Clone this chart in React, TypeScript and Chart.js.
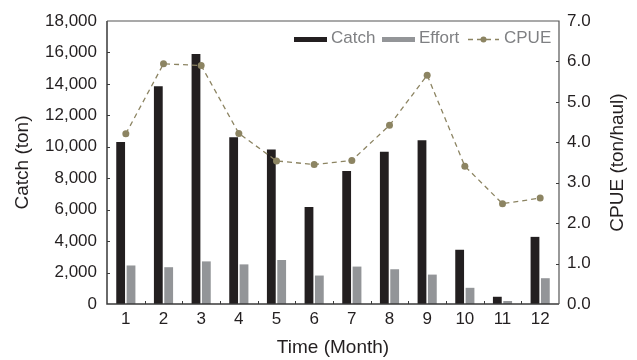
import React, { useEffect, useRef } from "react";
import { Chart, registerables } from "chart.js";
Chart.register(...registerables);

const months = ["1", "2", "3", "4", "5", "6", "7", "8", "9", "10", "11", "12"];
const catchTon = [10300, 13850, 15900, 10600, 9830, 6170, 8460, 9680, 10420, 3450, 460, 4270];
const effortHauls = [2450, 2340, 2710, 2520, 2800, 1810, 2380, 2210, 1870, 1030, 190, 1640];
const cpue = [4.21, 5.94, 5.9, 4.22, 3.54, 3.45, 3.55, 4.42, 5.66, 3.41, 2.48, 2.62];
const leftMax = 18000;
const leftStep = 2000;
const rightMax = 7;
const rightStep = 1;
const xTitle = "Time (Month)";
const leftTitle = "Catch (ton)";
const rightTitle = "CPUE (ton/haul)";
const legendLabels = ["Catch", "Effort", "CPUE"];

const CATCH_COLOR = "#231f20";
const EFFORT_COLOR = "#939598";
const CPUE_COLOR = "#8c8462";
const AXIS_COLOR = "#3a3a3a";
const FONT = "'Liberation Sans', Arial, sans-serif";

const decorPlugin = {
  id: "decor",
  afterDraw(chart: any) {
    const ctx = chart.ctx as CanvasRenderingContext2D;
    const a = chart.chartArea;
    const y = chart.scales.y;
    const y1 = chart.scales.y1;
    ctx.save();
    // frame
    ctx.strokeStyle = AXIS_COLOR;
    ctx.lineWidth = 1.5;
    ctx.beginPath();
    ctx.moveTo(a.left, a.top);
    ctx.lineTo(a.left, a.bottom);
    ctx.lineTo(a.right, a.bottom);
    ctx.stroke();
    ctx.strokeStyle = "#555";
    ctx.lineWidth = 1.2;
    ctx.beginPath();
    ctx.moveTo(a.left, a.top);
    ctx.lineTo(a.right, a.top);
    ctx.lineTo(a.right, a.bottom);
    ctx.stroke();
    // tick marks
    ctx.strokeStyle = AXIS_COLOR;
    ctx.lineWidth = 1;
    ctx.beginPath();
    for (let v = leftStep; v < leftMax; v += leftStep) {
      const py = Math.round(y.getPixelForValue(v)) + 0.5;
      ctx.moveTo(a.left, py);
      ctx.lineTo(a.left + 3, py);
    }
    for (let v = rightStep; v < rightMax; v += rightStep) {
      const py = Math.round(y1.getPixelForValue(v)) + 0.5;
      ctx.moveTo(a.right, py);
      ctx.lineTo(a.right - 3, py);
    }
    const n = months.length;
    const w = (a.right - a.left) / n;
    for (let i = 1; i < n; i++) {
      const px = Math.round(a.left + w * i) + 0.5;
      ctx.moveTo(px, a.bottom);
      ctx.lineTo(px, a.bottom - 3);
    }
    ctx.stroke();

    // titles
    ctx.fillStyle = "#231f20";
    ctx.font = `19px ${FONT}`;
    ctx.textAlign = "center";
    ctx.textBaseline = "middle";
    ctx.fillText(xTitle, (a.left + a.right) / 2, 348);
    ctx.save();
    ctx.translate(23, (a.top + a.bottom) / 2);
    ctx.rotate(-Math.PI / 2);
    ctx.fillText(leftTitle, 0, 0);
    ctx.restore();
    ctx.save();
    ctx.translate(618, (a.top + a.bottom) / 2);
    ctx.rotate(-Math.PI / 2);
    ctx.fillText(rightTitle, 0, 0);
    ctx.restore();

    // legend
    ctx.font = `17px ${FONT}`;
    ctx.textAlign = "left";
    ctx.textBaseline = "alphabetic";
    const base = 43;
    ctx.fillStyle = CATCH_COLOR;
    ctx.fillRect(294, 37, 33, 5);
    ctx.fillStyle = "#7f8083";
    ctx.fillText(legendLabels[0], 331, base);
    ctx.fillStyle = EFFORT_COLOR;
    ctx.fillRect(382, 37, 33, 5);
    ctx.fillStyle = "#7f8083";
    ctx.fillText(legendLabels[1], 419, base);
    ctx.strokeStyle = CPUE_COLOR;
    ctx.lineWidth = 1.3;
    ctx.setLineDash([5, 4]);
    ctx.beginPath();
    ctx.moveTo(468, 39.5);
    ctx.lineTo(499, 39.5);
    ctx.stroke();
    ctx.setLineDash([]);
    ctx.fillStyle = CPUE_COLOR;
    ctx.beginPath();
    ctx.arc(483.5, 39.5, 3, 0, Math.PI * 2);
    ctx.fill();
    ctx.fillStyle = "#7f8083";
    ctx.fillText(legendLabels[2], 504, base);
    ctx.restore();
  },
};

export default function App() {
  const ref = useRef<HTMLCanvasElement | null>(null);
  useEffect(() => {
    if (!ref.current) return;
    const chart = new Chart(ref.current, {
      type: "bar",
      data: {
        labels: months,
        datasets: [
          {
            type: "bar",
            label: "Catch",
            data: catchTon,
            backgroundColor: CATCH_COLOR,
            yAxisID: "y",
            order: 1,
            categoryPercentage: 0.55,
            barPercentage: 0.85,
          },
          {
            type: "bar",
            label: "Effort",
            data: effortHauls,
            backgroundColor: EFFORT_COLOR,
            yAxisID: "y",
            order: 1,
            categoryPercentage: 0.55,
            barPercentage: 0.85,
          },
          {
            type: "line",
            label: "CPUE",
            data: cpue,
            borderColor: CPUE_COLOR,
            backgroundColor: CPUE_COLOR,
            borderWidth: 1.3,
            borderDash: [5, 4],
            pointRadius: 3.5,
            pointBorderWidth: 0,
            pointBackgroundColor: CPUE_COLOR,
            yAxisID: "y1",
            order: 0,
            tension: 0,
          },
        ] as any,
      },
      options: {
        responsive: false,
        animation: false,
        layout: { padding: { left: 0, right: 0, top: 21, bottom: 0 } },
        plugins: { legend: { display: false }, tooltip: { enabled: false } },
        scales: {
          x: {
            offset: true,
            grid: { display: false, drawTicks: false },
            border: { display: false },
            ticks: { color: "#231f20", font: { family: FONT, size: 17 }, padding: 5, maxRotation: 0 },
            afterFit: (s: any) => {
              s.height = 56;
            },
          },
          y: {
            position: "left",
            min: 0,
            max: leftMax,
            grid: { display: false, drawTicks: false },
            border: { display: false },
            ticks: {
              stepSize: leftStep,
              color: "#231f20",
              font: { family: FONT, size: 17 },
              padding: 10,
              callback: (v: any) => Number(v).toLocaleString("en-US"),
            },
            afterFit: (s: any) => {
              s.width = 107;
            },
          },
          y1: {
            position: "right",
            min: 0,
            max: rightMax,
            grid: { display: false, drawTicks: false },
            border: { display: false },
            ticks: {
              stepSize: rightStep,
              color: "#231f20",
              font: { family: FONT, size: 17 },
              padding: 8,
              callback: (v: any) => Number(v).toFixed(1),
            },
            afterFit: (s: any) => {
              s.width = 78;
            },
          },
        },
      },
      plugins: [decorPlugin],
    });
    return () => chart.destroy();
  }, []);
  return (
    <div style={{ position: "fixed", left: 0, top: 0, width: 637, height: 360, background: "#fff" }}>
      <canvas ref={ref} width={637} height={360} style={{ width: 637, height: 360, display: "block" }} />
    </div>
  );
}
